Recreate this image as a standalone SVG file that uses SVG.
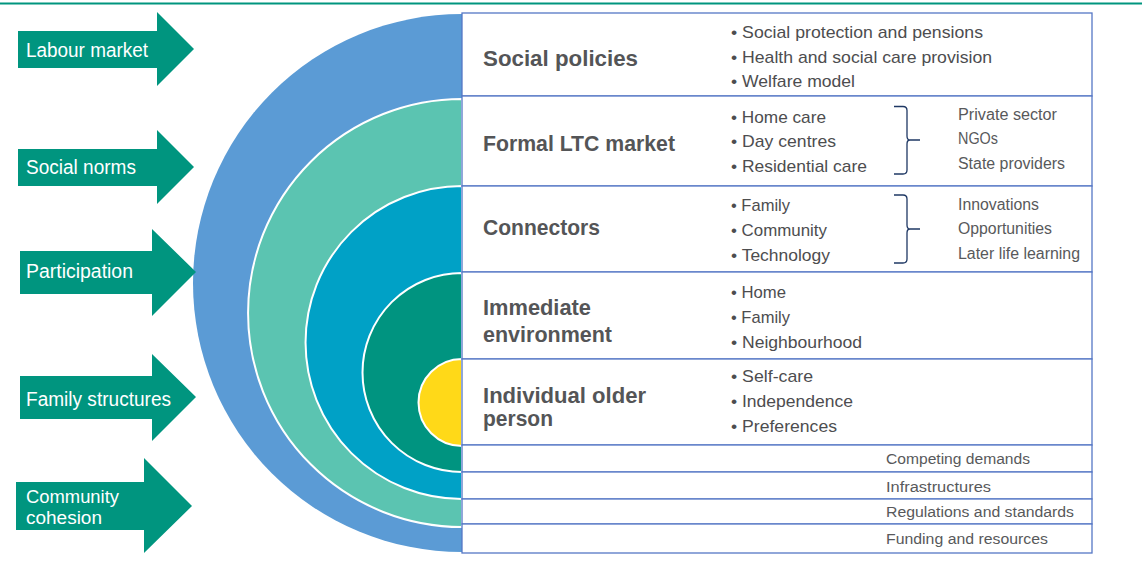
<svg xmlns="http://www.w3.org/2000/svg" width="1142" height="568" viewBox="0 0 1142 568">
<defs>
<style>
.arrow{fill:#00957f}
.al{font-family:"Liberation Sans Narrow","Liberation Sans",Roboto,sans-serif;font-size:20px;fill:#ffffff}
.al2{font-family:"Liberation Sans Narrow","Liberation Sans",Roboto,sans-serif;font-size:18px;fill:#ffffff}
.row{fill:#ffffff;stroke:#5577c5;stroke-width:1.3}
.hd{font-family:"Liberation Sans Narrow","Liberation Sans",Roboto,sans-serif;font-size:22px;font-weight:bold;fill:#545557}
.bl{font-family:"Liberation Sans Narrow","Liberation Sans",Roboto,sans-serif;font-size:17px;fill:#4d4d4f}
.rt{font-family:"Liberation Sans Narrow","Liberation Sans",Roboto,sans-serif;font-size:16px;fill:#58595b}
.bt{font-family:"Liberation Sans Narrow","Liberation Sans",Roboto,sans-serif;font-size:15.5px;fill:#58595b}
.ring{stroke:#ffffff;stroke-width:2}
.br{fill:none;stroke:#1f3864;stroke-width:1.3}
</style>
</defs>
<rect x="0" y="0" width="1142" height="568" fill="#ffffff"/>
<line x1="0" y1="3.5" x2="1142" y2="3.5" stroke="#00957f" stroke-width="2"/>

<g id="rings">
<path d="M462 14 A269 269 0 0 0 462 552 Z" fill="#5b9bd5"/>
<path class="ring" d="M462 99 A214 214 0 0 0 462 527 Z" fill="#5bc4b1"/>
<path class="ring" d="M462 186 A156.5 156.5 0 0 0 462 499 Z" fill="#00a1c6"/>
<path class="ring" d="M462 273 A99.5 99.5 0 0 0 462 472 Z" fill="#009480"/>
<path class="ring" d="M462 359 A43.5 43.5 0 0 0 462 446 Z" fill="#ffd918"/>
</g>

<g id="arrow-labour-market">
<path class="arrow" d="M18 31 H157 V12 L194 49 L157 86 V68 H18 Z"/>
<text class="al" x="26" y="57" textLength="122" lengthAdjust="spacingAndGlyphs">Labour market</text>
</g>
<g id="arrow-social-norms">
<path class="arrow" d="M18 149 H157 V130 L194 167 L157 204 V186 H18 Z"/>
<text class="al" x="26" y="174" textLength="110" lengthAdjust="spacingAndGlyphs">Social norms</text>
</g>
<g id="arrow-participation">
<path class="arrow" d="M20 251 H152 V229 L196 272 L152 316 V294 H20 Z"/>
<text class="al" x="26" y="278" textLength="107" lengthAdjust="spacingAndGlyphs">Participation</text>
</g>
<g id="arrow-family-structures">
<path class="arrow" d="M20 376 H152 V354 L196 397 L152 441 V419 H20 Z"/>
<text class="al" x="26" y="406" textLength="145" lengthAdjust="spacingAndGlyphs">Family structures</text>
</g>
<g id="arrow-community-cohesion">
<path class="arrow" d="M16 482 H144 V458 L192 506 L144 553 V530 H16 Z"/>
<text class="al2" x="26" y="503" textLength="93" lengthAdjust="spacingAndGlyphs">Community</text>
<text class="al2" x="26" y="524" textLength="76" lengthAdjust="spacingAndGlyphs">cohesion</text>
</g>

<g id="row-social-policies">
<rect class="row" x="462" y="13" width="630" height="83"/>
<text class="hd" x="483" y="66" textLength="155" lengthAdjust="spacingAndGlyphs">Social policies</text>
<text class="bl" x="731" y="38" textLength="252" lengthAdjust="spacingAndGlyphs">• Social protection and pensions</text>
<text class="bl" x="731" y="63" textLength="261" lengthAdjust="spacingAndGlyphs">• Health and social care provision</text>
<text class="bl" x="731" y="87" textLength="124" lengthAdjust="spacingAndGlyphs">• Welfare model</text>
</g>
<g id="row-formal-ltc-market">
<rect class="row" x="462" y="96" width="630" height="90"/>
<text class="hd" x="483" y="151" textLength="192" lengthAdjust="spacingAndGlyphs">Formal LTC market</text>
<text class="bl" x="731" y="123" textLength="95" lengthAdjust="spacingAndGlyphs">• Home care</text>
<text class="bl" x="731" y="147" textLength="105" lengthAdjust="spacingAndGlyphs">• Day centres</text>
<text class="bl" x="731" y="172" textLength="136" lengthAdjust="spacingAndGlyphs">• Residential care</text>
<text class="rt" x="958" y="120" textLength="99" lengthAdjust="spacingAndGlyphs">Private sector</text>
<text class="rt" x="958" y="144" textLength="40" lengthAdjust="spacingAndGlyphs">NGOs</text>
<text class="rt" x="958" y="169" textLength="107" lengthAdjust="spacingAndGlyphs">State providers</text>
</g>
<g id="row-connectors">
<rect class="row" x="462" y="186" width="630" height="86"/>
<text class="hd" x="483" y="235" textLength="117" lengthAdjust="spacingAndGlyphs">Connectors</text>
<text class="bl" x="731" y="211" textLength="59" lengthAdjust="spacingAndGlyphs">• Family</text>
<text class="bl" x="731" y="236" textLength="96" lengthAdjust="spacingAndGlyphs">• Community</text>
<text class="bl" x="731" y="261" textLength="99" lengthAdjust="spacingAndGlyphs">• Technology</text>
<text class="rt" x="958" y="210" textLength="81" lengthAdjust="spacingAndGlyphs">Innovations</text>
<text class="rt" x="958" y="234" textLength="94" lengthAdjust="spacingAndGlyphs">Opportunities</text>
<text class="rt" x="958" y="259" textLength="122" lengthAdjust="spacingAndGlyphs">Later life learning</text>
</g>
<g id="row-immediate-environment">
<rect class="row" x="462" y="272" width="630" height="87"/>
<text class="hd" x="483" y="315" textLength="108" lengthAdjust="spacingAndGlyphs">Immediate</text>
<text class="hd" x="483" y="342" textLength="129" lengthAdjust="spacingAndGlyphs">environment</text>
<text class="bl" x="731" y="298" textLength="55" lengthAdjust="spacingAndGlyphs">• Home</text>
<text class="bl" x="731" y="323" textLength="59" lengthAdjust="spacingAndGlyphs">• Family</text>
<text class="bl" x="731" y="348" textLength="131" lengthAdjust="spacingAndGlyphs">• Neighbourhood</text>
</g>
<g id="row-individual-older-person">
<rect class="row" x="462" y="359" width="630" height="86"/>
<text class="hd" x="483" y="403" textLength="163" lengthAdjust="spacingAndGlyphs">Individual older</text>
<text class="hd" x="483" y="426" textLength="70" lengthAdjust="spacingAndGlyphs">person</text>
<text class="bl" x="731" y="382" textLength="82" lengthAdjust="spacingAndGlyphs">• Self-care</text>
<text class="bl" x="731" y="407" textLength="122" lengthAdjust="spacingAndGlyphs">• Independence</text>
<text class="bl" x="731" y="432" textLength="106" lengthAdjust="spacingAndGlyphs">• Preferences</text>
</g>
<g id="row-competing-demands">
<rect class="row" x="462" y="445" width="630" height="27"/>
<text class="bt" x="886" y="464" textLength="144" lengthAdjust="spacingAndGlyphs">Competing demands</text>
</g>
<g id="row-infrastructures">
<rect class="row" x="462" y="472" width="630" height="27"/>
<text class="bt" x="886" y="492" textLength="105" lengthAdjust="spacingAndGlyphs">Infrastructures</text>
</g>
<g id="row-regulations">
<rect class="row" x="462" y="499" width="630" height="25"/>
<text class="bt" x="886" y="517" textLength="188" lengthAdjust="spacingAndGlyphs">Regulations and standards</text>
</g>
<g id="row-funding">
<rect class="row" x="462" y="524" width="630" height="29"/>
<text class="bt" x="886" y="544" textLength="162" lengthAdjust="spacingAndGlyphs">Funding and resources</text>
</g>

<g id="connectors">
<path class="br" d="M894 106.5 H903 Q907 106.5 907 110.5 V136 Q907 140 910 140 Q907 140 907 144 V170 Q907 174 903 174 H894 M910 140 H920"/>
<path class="br" d="M894 195 H903 Q907 195 907 199 V225 Q907 229 910 229 Q907 229 907 233 V259 Q907 263 903 263 H894 M910 229 H920"/>
</g>
</svg>
